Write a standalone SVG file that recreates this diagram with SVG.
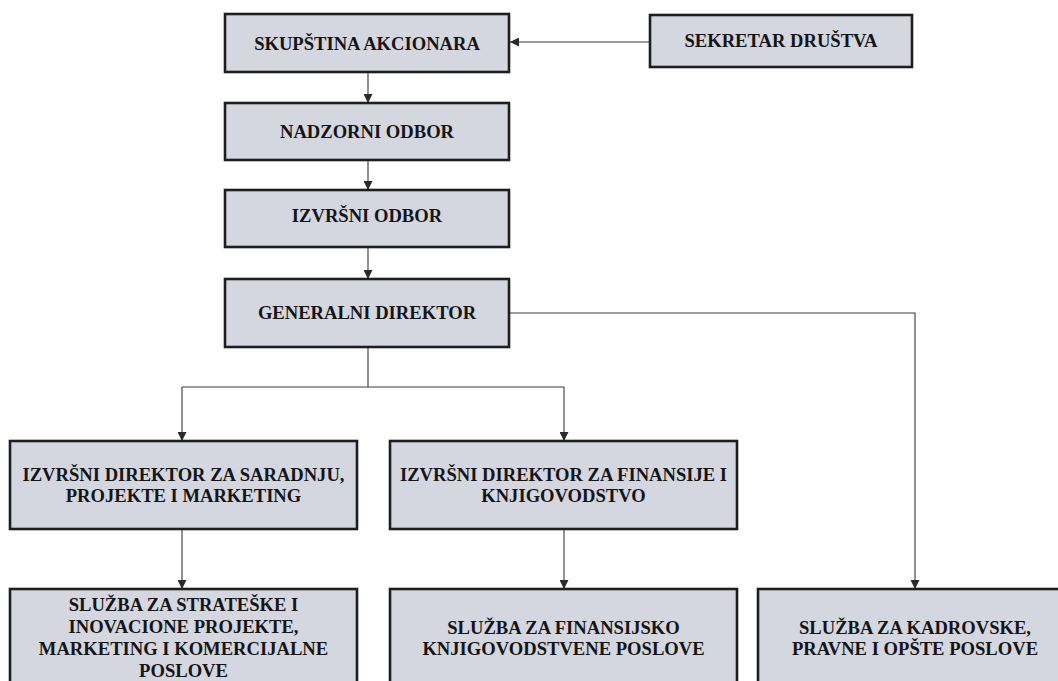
<svg xmlns="http://www.w3.org/2000/svg" width="1058" height="681" viewBox="0 0 1058 681">
<style>
.box{fill:#d4d6e0;stroke:#1e1e1e;stroke-width:2.6}
.t{font-family:"Liberation Serif","Times New Roman",serif;font-weight:bold;font-size:18.6px;fill:#151515;text-anchor:middle}
.c{fill:none;stroke:#3a3a3a;stroke-width:1.1}
</style>
<defs>
<marker id="ah" markerUnits="userSpaceOnUse" markerWidth="9" markerHeight="9" refX="9" refY="4.5" orient="auto">
<path d="M0,0 L9,4.5 L0,9 Z" fill="#2a2a2a"/>
</marker>
</defs>
<rect width="1058" height="681" fill="#ffffff"/>
<g id="connectors">
<line class="c" x1="650" y1="42" x2="510" y2="42" marker-end="url(#ah)"/>
<line class="c" x1="368" y1="72" x2="368" y2="103" marker-end="url(#ah)"/>
<line class="c" x1="368" y1="160" x2="368" y2="190" marker-end="url(#ah)"/>
<line class="c" x1="368" y1="247" x2="368" y2="279" marker-end="url(#ah)"/>
<polyline class="c" points="368,347 368,387"/>
<polyline class="c" points="182,387 564,387"/>
<line class="c" x1="182" y1="387" x2="182" y2="441" marker-end="url(#ah)"/>
<line class="c" x1="564" y1="387" x2="564" y2="441" marker-end="url(#ah)"/>
<polyline class="c" points="509,313 915,313 915,589" marker-end="url(#ah)"/>
<line class="c" x1="182" y1="529" x2="182" y2="589" marker-end="url(#ah)"/>
<line class="c" x1="564" y1="529" x2="564" y2="589" marker-end="url(#ah)"/>
</g>
<g id="skupstina">
<rect class="box" x="225" y="14" width="284" height="58"/>
<text class="t" x="367" y="50">SKUPŠTINA AKCIONARA</text>
</g>
<g id="sekretar">
<rect class="box" x="650" y="15" width="262" height="52"/>
<text class="t" x="781" y="47">SEKRETAR DRUŠTVA</text>
</g>
<g id="nadzorni">
<rect class="box" x="225" y="103" width="284" height="57"/>
<text class="t" x="367" y="138">NADZORNI ODBOR</text>
</g>
<g id="izvrsni-odbor">
<rect class="box" x="225" y="190" width="284" height="57"/>
<text class="t" x="367" y="222">IZVRŠNI ODBOR</text>
</g>
<g id="generalni">
<rect class="box" x="225" y="279" width="284" height="68"/>
<text class="t" x="367" y="319">GENERALNI DIREKTOR</text>
</g>
<g id="izvrsni-saradnja">
<rect class="box" x="10" y="441" width="347" height="88"/>
<text class="t" x="183.5" y="481">IZVRŠNI DIREKTOR ZA SARADNJU,</text>
<text class="t" x="183.5" y="502">PROJEKTE I MARKETING</text>
</g>
<g id="izvrsni-finansije">
<rect class="box" x="390" y="441" width="347" height="88"/>
<text class="t" x="563.5" y="481">IZVRŠNI DIREKTOR ZA FINANSIJE I</text>
<text class="t" x="563.5" y="502">KNJIGOVODSTVO</text>
</g>
<g id="sluzba-strateske">
<rect class="box" x="10" y="589" width="347" height="110"/>
<text class="t" x="183.5" y="611">SLUŽBA ZA STRATEŠKE I</text>
<text class="t" x="183.5" y="633">INOVACIONE PROJEKTE,</text>
<text class="t" x="183.5" y="655">MARKETING I KOMERCIJALNE</text>
<text class="t" x="183.5" y="677">POSLOVE</text>
</g>
<g id="sluzba-finansijsko">
<rect class="box" x="390" y="589" width="347" height="110"/>
<text class="t" x="563.5" y="634">SLUŽBA ZA FINANSIJSKO</text>
<text class="t" x="563.5" y="655">KNJIGOVODSTVENE POSLOVE</text>
</g>
<g id="sluzba-kadrovske">
<rect class="box" x="758" y="589" width="314" height="110"/>
<text class="t" x="915" y="634">SLUŽBA ZA KADROVSKE,</text>
<text class="t" x="915" y="655">PRAVNE I OPŠTE POSLOVE</text>
</g>
</svg>
